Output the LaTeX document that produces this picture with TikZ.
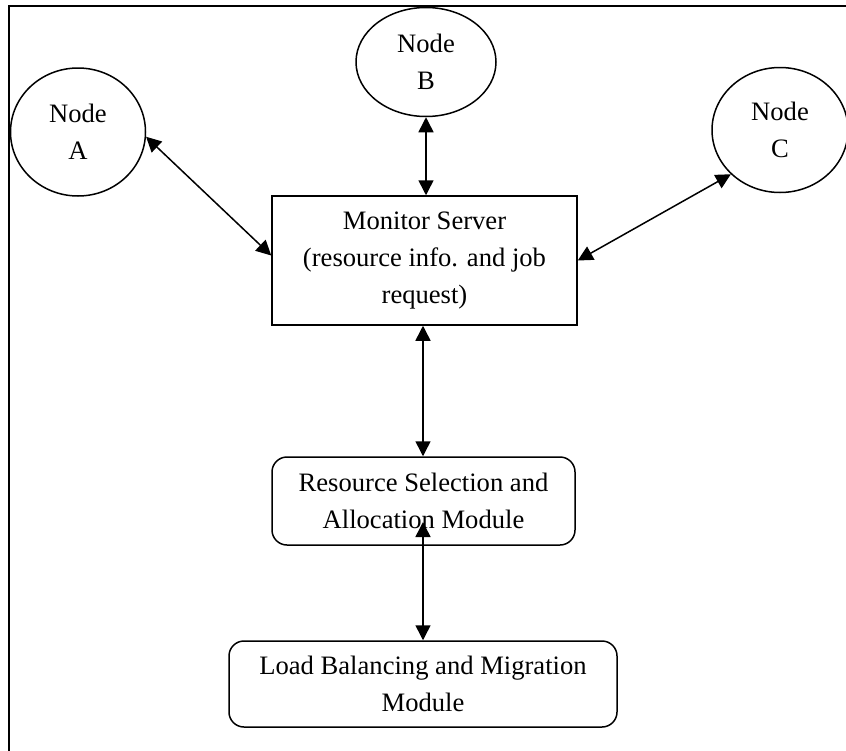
\documentclass[tikz,border=0pt]{standalone}
\usepackage{fontspec}
\setmainfont{Liberation Serif}
\usetikzlibrary{shapes.geometric,arrows.meta,calc}

\tikzset{
  line/.style={line width=0.75pt, black},
  link/.style={line, {Triangle[length=7.5pt,width=7.5pt]}-{Triangle[length=7.5pt,width=7.5pt]}},
  peer/.style={line, draw, ellipse, inner sep=0pt, align=center},
  plainbox/.style={line, draw, rectangle, inner sep=0pt, align=center},
  modbox/.style={line, draw, rectangle, rounded corners=7.5pt, inner sep=0pt, align=center},
}

\begin{document}
\begin{tikzpicture}[x=0.5pt, y=-0.5pt, font=\fontsize{13.3pt}{18.5pt}\selectfont]
  \clip (0,0) rectangle (846,750);
  \useasboundingbox (0,0) rectangle (846,750);

  % outer frame
  \draw[line] (9,760) -- (9,6) -- (860,6);

  % peers
  \node[peer, minimum width=67.5pt, minimum height=64pt] (A) at (78,132) {Node\\A};
  \node[peer, minimum width=70pt, minimum height=54.5pt] (B) at (426,62) {Node\\B};
  \node[peer, minimum width=68pt, minimum height=62.5pt] (C) at (780,130) {Node\\C};

  % central server and modules
  \node[plainbox, minimum width=152.5pt, minimum height=64.5pt] (MS) at (424.5,260.5)
    {Monitor Server\\(resource info. and job\\request)};
  \node[modbox, minimum width=151.5pt, minimum height=44pt] (RS) at (423.5,501)
    {Resource Selection and\\Allocation Module};
  \node[modbox, minimum width=194pt, minimum height=43pt] (LB) at (423,684)
    {Load Balancing and Migration\\Module};

  \coordinate (MSout) at ($(MS.south)+(-1.5,0)$);
  \coordinate (RSin) at (423,522);

  % connectors
  \draw[link] (A.-4) -- ($(MS.west)+(0,-5)$);
  \draw[link] (B.south) -- (B.south |- MS.north);
  \draw[link] (C.222) -- (MS.east);
  \draw[link] (MSout) -- (MSout |- RS.north);
  \draw[link] (RSin) -- (RSin |- LB.north);
\end{tikzpicture}
\end{document}
